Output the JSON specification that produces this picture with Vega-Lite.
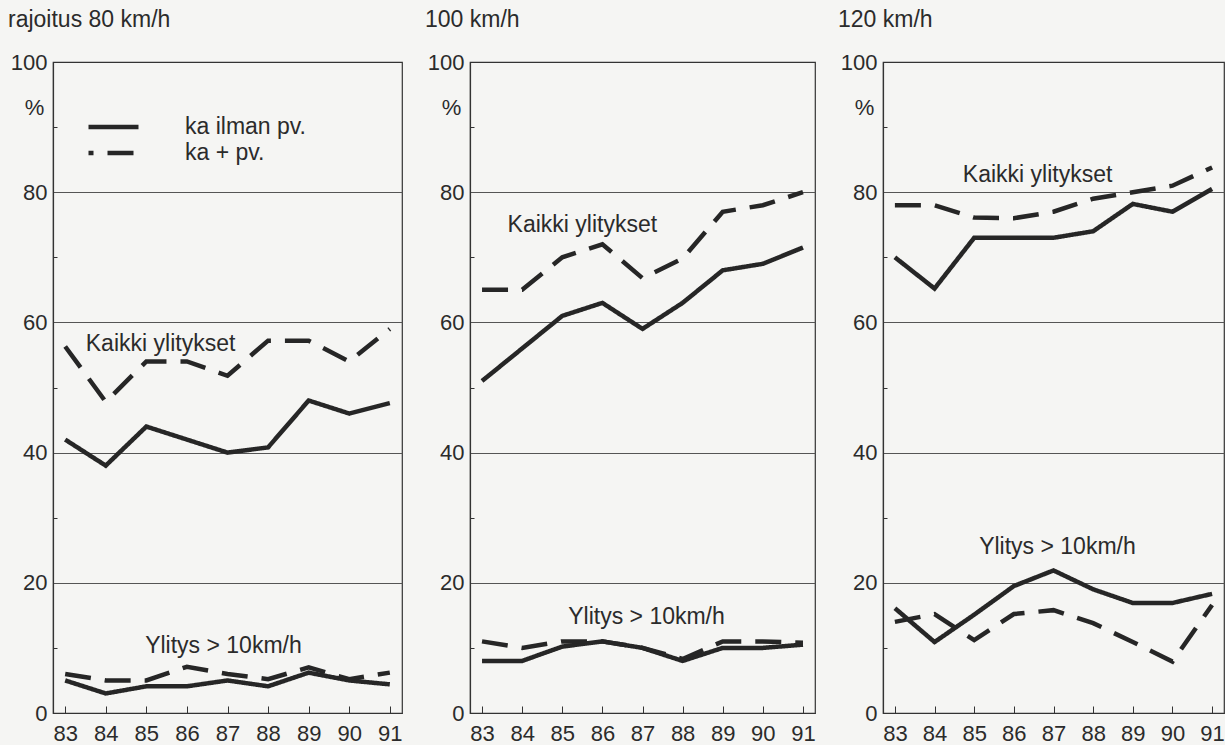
{
  "$schema": "https://vega.github.io/schema/vega-lite/v6.json",
  "background": "#f5f5f3",
  "padding": {"left": 7, "top": 8, "right": 0, "bottom": 0},
  "autosize": {"type": "pad"},
  "spacing": 21,
  "config": {
    "font": "Liberation Sans",
    "view": {"stroke": "#333333", "strokeWidth": 1.2},
    "axis": {"labelFont": "Liberation Sans", "labelFontSize": 22, "labelColor": "#2b2b2b", "domainColor": "#333333", "tickColor": "#333333", "gridColor": "#555555", "gridWidth": 1, "titleFont": "Liberation Sans", "titleFontWeight": "normal", "titleFontSize": 22, "titleColor": "#2b2b2b"},
    "title": {"font": "Liberation Sans", "fontSize": 23, "fontWeight": "normal", "color": "#2b2b2b", "anchor": "start", "frame": "bounds", "offset": 19},
    "legend": {"labelFont": "Liberation Sans", "labelFontSize": 23, "labelColor": "#2b2b2b"},
    "text": {"font": "Liberation Sans", "fontSize": 23, "color": "#2b2b2b"}
  },
  "datasets": {
    "d": [
      {"panel": "80", "measure": "Kaikki", "type": "ka ilman pv.", "year": 83, "value": 42},
      {"panel": "80", "measure": "Kaikki", "type": "ka ilman pv.", "year": 84, "value": 38},
      {"panel": "80", "measure": "Kaikki", "type": "ka ilman pv.", "year": 85, "value": 44},
      {"panel": "80", "measure": "Kaikki", "type": "ka ilman pv.", "year": 86, "value": 42},
      {"panel": "80", "measure": "Kaikki", "type": "ka ilman pv.", "year": 87, "value": 40},
      {"panel": "80", "measure": "Kaikki", "type": "ka ilman pv.", "year": 88, "value": 40.8},
      {"panel": "80", "measure": "Kaikki", "type": "ka ilman pv.", "year": 89, "value": 48},
      {"panel": "80", "measure": "Kaikki", "type": "ka ilman pv.", "year": 90, "value": 46},
      {"panel": "80", "measure": "Kaikki", "type": "ka ilman pv.", "year": 91, "value": 47.6},
      {"panel": "80", "measure": "Kaikki", "type": "ka + pv.", "year": 83, "value": 56.3},
      {"panel": "80", "measure": "Kaikki", "type": "ka + pv.", "year": 84, "value": 47.8},
      {"panel": "80", "measure": "Kaikki", "type": "ka + pv.", "year": 85, "value": 54},
      {"panel": "80", "measure": "Kaikki", "type": "ka + pv.", "year": 86, "value": 54},
      {"panel": "80", "measure": "Kaikki", "type": "ka + pv.", "year": 87, "value": 51.8},
      {"panel": "80", "measure": "Kaikki", "type": "ka + pv.", "year": 88, "value": 57.2},
      {"panel": "80", "measure": "Kaikki", "type": "ka + pv.", "year": 89, "value": 57.2},
      {"panel": "80", "measure": "Kaikki", "type": "ka + pv.", "year": 90, "value": 54},
      {"panel": "80", "measure": "Kaikki", "type": "ka + pv.", "year": 91, "value": 59},
      {"panel": "80", "measure": "Ylitys", "type": "ka ilman pv.", "year": 83, "value": 5},
      {"panel": "80", "measure": "Ylitys", "type": "ka ilman pv.", "year": 84, "value": 3},
      {"panel": "80", "measure": "Ylitys", "type": "ka ilman pv.", "year": 85, "value": 4.1},
      {"panel": "80", "measure": "Ylitys", "type": "ka ilman pv.", "year": 86, "value": 4.1},
      {"panel": "80", "measure": "Ylitys", "type": "ka ilman pv.", "year": 87, "value": 5},
      {"panel": "80", "measure": "Ylitys", "type": "ka ilman pv.", "year": 88, "value": 4.1},
      {"panel": "80", "measure": "Ylitys", "type": "ka ilman pv.", "year": 89, "value": 6.2},
      {"panel": "80", "measure": "Ylitys", "type": "ka ilman pv.", "year": 90, "value": 5},
      {"panel": "80", "measure": "Ylitys", "type": "ka ilman pv.", "year": 91, "value": 4.4},
      {"panel": "80", "measure": "Ylitys", "type": "ka + pv.", "year": 83, "value": 6},
      {"panel": "80", "measure": "Ylitys", "type": "ka + pv.", "year": 84, "value": 5},
      {"panel": "80", "measure": "Ylitys", "type": "ka + pv.", "year": 85, "value": 5},
      {"panel": "80", "measure": "Ylitys", "type": "ka + pv.", "year": 86, "value": 7.1},
      {"panel": "80", "measure": "Ylitys", "type": "ka + pv.", "year": 87, "value": 6},
      {"panel": "80", "measure": "Ylitys", "type": "ka + pv.", "year": 88, "value": 5.2},
      {"panel": "80", "measure": "Ylitys", "type": "ka + pv.", "year": 89, "value": 7},
      {"panel": "80", "measure": "Ylitys", "type": "ka + pv.", "year": 90, "value": 5.2},
      {"panel": "80", "measure": "Ylitys", "type": "ka + pv.", "year": 91, "value": 6.2},

      {"panel": "100", "measure": "Kaikki", "type": "ka ilman pv.", "year": 83, "value": 51},
      {"panel": "100", "measure": "Kaikki", "type": "ka ilman pv.", "year": 84, "value": 56},
      {"panel": "100", "measure": "Kaikki", "type": "ka ilman pv.", "year": 85, "value": 61},
      {"panel": "100", "measure": "Kaikki", "type": "ka ilman pv.", "year": 86, "value": 63},
      {"panel": "100", "measure": "Kaikki", "type": "ka ilman pv.", "year": 87, "value": 59},
      {"panel": "100", "measure": "Kaikki", "type": "ka ilman pv.", "year": 88, "value": 63},
      {"panel": "100", "measure": "Kaikki", "type": "ka ilman pv.", "year": 89, "value": 68},
      {"panel": "100", "measure": "Kaikki", "type": "ka ilman pv.", "year": 90, "value": 69},
      {"panel": "100", "measure": "Kaikki", "type": "ka ilman pv.", "year": 91, "value": 71.5},
      {"panel": "100", "measure": "Kaikki", "type": "ka + pv.", "year": 83, "value": 65},
      {"panel": "100", "measure": "Kaikki", "type": "ka + pv.", "year": 84, "value": 65},
      {"panel": "100", "measure": "Kaikki", "type": "ka + pv.", "year": 85, "value": 70},
      {"panel": "100", "measure": "Kaikki", "type": "ka + pv.", "year": 86, "value": 72},
      {"panel": "100", "measure": "Kaikki", "type": "ka + pv.", "year": 87, "value": 66.8},
      {"panel": "100", "measure": "Kaikki", "type": "ka + pv.", "year": 88, "value": 69.8},
      {"panel": "100", "measure": "Kaikki", "type": "ka + pv.", "year": 89, "value": 77},
      {"panel": "100", "measure": "Kaikki", "type": "ka + pv.", "year": 90, "value": 78},
      {"panel": "100", "measure": "Kaikki", "type": "ka + pv.", "year": 91, "value": 80},
      {"panel": "100", "measure": "Ylitys", "type": "ka ilman pv.", "year": 83, "value": 8},
      {"panel": "100", "measure": "Ylitys", "type": "ka ilman pv.", "year": 84, "value": 8},
      {"panel": "100", "measure": "Ylitys", "type": "ka ilman pv.", "year": 85, "value": 10.2},
      {"panel": "100", "measure": "Ylitys", "type": "ka ilman pv.", "year": 86, "value": 11},
      {"panel": "100", "measure": "Ylitys", "type": "ka ilman pv.", "year": 87, "value": 10},
      {"panel": "100", "measure": "Ylitys", "type": "ka ilman pv.", "year": 88, "value": 8},
      {"panel": "100", "measure": "Ylitys", "type": "ka ilman pv.", "year": 89, "value": 10},
      {"panel": "100", "measure": "Ylitys", "type": "ka ilman pv.", "year": 90, "value": 10},
      {"panel": "100", "measure": "Ylitys", "type": "ka ilman pv.", "year": 91, "value": 10.5},
      {"panel": "100", "measure": "Ylitys", "type": "ka + pv.", "year": 83, "value": 11},
      {"panel": "100", "measure": "Ylitys", "type": "ka + pv.", "year": 84, "value": 10},
      {"panel": "100", "measure": "Ylitys", "type": "ka + pv.", "year": 85, "value": 11},
      {"panel": "100", "measure": "Ylitys", "type": "ka + pv.", "year": 86, "value": 11},
      {"panel": "100", "measure": "Ylitys", "type": "ka + pv.", "year": 87, "value": 10},
      {"panel": "100", "measure": "Ylitys", "type": "ka + pv.", "year": 88, "value": 8.3},
      {"panel": "100", "measure": "Ylitys", "type": "ka + pv.", "year": 89, "value": 11},
      {"panel": "100", "measure": "Ylitys", "type": "ka + pv.", "year": 90, "value": 11},
      {"panel": "100", "measure": "Ylitys", "type": "ka + pv.", "year": 91, "value": 10.8},

      {"panel": "120", "measure": "Kaikki", "type": "ka ilman pv.", "year": 83, "value": 70},
      {"panel": "120", "measure": "Kaikki", "type": "ka ilman pv.", "year": 84, "value": 65.2},
      {"panel": "120", "measure": "Kaikki", "type": "ka ilman pv.", "year": 85, "value": 73},
      {"panel": "120", "measure": "Kaikki", "type": "ka ilman pv.", "year": 86, "value": 73},
      {"panel": "120", "measure": "Kaikki", "type": "ka ilman pv.", "year": 87, "value": 73},
      {"panel": "120", "measure": "Kaikki", "type": "ka ilman pv.", "year": 88, "value": 74},
      {"panel": "120", "measure": "Kaikki", "type": "ka ilman pv.", "year": 89, "value": 78.2},
      {"panel": "120", "measure": "Kaikki", "type": "ka ilman pv.", "year": 90, "value": 77},
      {"panel": "120", "measure": "Kaikki", "type": "ka ilman pv.", "year": 91, "value": 80.5},
      {"panel": "120", "measure": "Kaikki", "type": "ka + pv.", "year": 83, "value": 78},
      {"panel": "120", "measure": "Kaikki", "type": "ka + pv.", "year": 84, "value": 78},
      {"panel": "120", "measure": "Kaikki", "type": "ka + pv.", "year": 85, "value": 76.1},
      {"panel": "120", "measure": "Kaikki", "type": "ka + pv.", "year": 86, "value": 76},
      {"panel": "120", "measure": "Kaikki", "type": "ka + pv.", "year": 87, "value": 77},
      {"panel": "120", "measure": "Kaikki", "type": "ka + pv.", "year": 88, "value": 79},
      {"panel": "120", "measure": "Kaikki", "type": "ka + pv.", "year": 89, "value": 80},
      {"panel": "120", "measure": "Kaikki", "type": "ka + pv.", "year": 90, "value": 81},
      {"panel": "120", "measure": "Kaikki", "type": "ka + pv.", "year": 91, "value": 83.8},
      {"panel": "120", "measure": "Ylitys", "type": "ka ilman pv.", "year": 83, "value": 16.1},
      {"panel": "120", "measure": "Ylitys", "type": "ka ilman pv.", "year": 84, "value": 10.9},
      {"panel": "120", "measure": "Ylitys", "type": "ka ilman pv.", "year": 85, "value": 15.1},
      {"panel": "120", "measure": "Ylitys", "type": "ka ilman pv.", "year": 86, "value": 19.5},
      {"panel": "120", "measure": "Ylitys", "type": "ka ilman pv.", "year": 87, "value": 21.9},
      {"panel": "120", "measure": "Ylitys", "type": "ka ilman pv.", "year": 88, "value": 19},
      {"panel": "120", "measure": "Ylitys", "type": "ka ilman pv.", "year": 89, "value": 16.9},
      {"panel": "120", "measure": "Ylitys", "type": "ka ilman pv.", "year": 90, "value": 16.9},
      {"panel": "120", "measure": "Ylitys", "type": "ka ilman pv.", "year": 91, "value": 18.3},
      {"panel": "120", "measure": "Ylitys", "type": "ka + pv.", "year": 83, "value": 14},
      {"panel": "120", "measure": "Ylitys", "type": "ka + pv.", "year": 84, "value": 15.2},
      {"panel": "120", "measure": "Ylitys", "type": "ka + pv.", "year": 85, "value": 11.2},
      {"panel": "120", "measure": "Ylitys", "type": "ka + pv.", "year": 86, "value": 15.2},
      {"panel": "120", "measure": "Ylitys", "type": "ka + pv.", "year": 87, "value": 15.8},
      {"panel": "120", "measure": "Ylitys", "type": "ka + pv.", "year": 88, "value": 13.8},
      {"panel": "120", "measure": "Ylitys", "type": "ka + pv.", "year": 89, "value": 10.9},
      {"panel": "120", "measure": "Ylitys", "type": "ka + pv.", "year": 90, "value": 7.9},
      {"panel": "120", "measure": "Ylitys", "type": "ka + pv.", "year": 91, "value": 16.6}
    ]
  },
  "resolve": {"legend": {"strokeDash": "independent"}},
  "hconcat": [
    {
      "width": 349, "height": 651,
      "title": {"text": "rajoitus 80 km/h"},
      "layer": [
        {
          "data": {"name": "d"},
          "transform": [{"filter": "datum.panel == '80'"}],
          "mark": {"type": "line", "strokeWidth": 4.5, "color": "#262626"},
          "encoding": {
            "x": {"field": "year", "type": "quantitative", "scale": {"domain": [82.7, 91.3], "nice": false, "zero": false},
                  "axis": {"title": null, "values": [83,84,85,86,87,88,89,90,91], "format": "d", "grid": false, "tickSize": -7, "labelPadding": 17, "domainWidth": 1.2}},
            "y": {"field": "value", "type": "quantitative", "scale": {"domain": [0, 100], "nice": false},
                  "axis": {"title": "%", "titleAngle": 0, "titleX": -19, "titleY": 45, "titleAlign": "center", "titleBaseline": "middle", "values": [0,10,20,30,40,50,60,70,80,90,100], "labelExpr": "datum.value % 20 == 0 ? datum.label : ''", "grid": true, "gridOpacity": {"condition": {"test": "datum.value % 20 == 0 && datum.value > 0 && datum.value < 100", "value": 1}, "value": 0}, "tickSize": -4, "tickOpacity": {"condition": {"test": "datum.value % 20 == 0", "value": 0}, "value": 1}, "labelPadding": 10, "minExtent": 45, "maxExtent": 45, "domainWidth": 1.2}},
            "detail": {"field": "measure"},
            "strokeDash": {"field": "type", "type": "nominal", "scale": {"domain": ["ka ilman pv.", "ka + pv."], "range": [[1, 0], [26, 14]]},
                           "legend": {"title": null, "orient": "none", "legendX": 33, "legendY": 52, "symbolType": "stroke", "symbolSize": 2500, "symbolStrokeWidth": 4.5, "symbolStrokeColor": "#262626", "labelOffset": 44, "rowPadding": 0, "clipHeight": 26, "symbolDashOffset": 21}}
          }
        },
        {
          "data": {"values": [{"label": "Kaikki ylitykset"}]},
          "mark": {"type": "text", "align": "center", "baseline": "middle"},
          "encoding": {"x": {"datum": 85.35}, "y": {"datum": 56.7}, "text": {"field": "label"}}
        },
        {
          "data": {"values": [{"label": "Ylitys > 10km/h"}]},
          "mark": {"type": "text", "align": "center", "baseline": "middle"},
          "encoding": {"x": {"datum": 86.9}, "y": {"datum": 10.3}, "text": {"field": "label"}}
        }
      ]
    },
    {
      "width": 345, "height": 651,
      "title": {"text": "100 km/h"},
      "layer": [
        {
          "data": {"name": "d"},
          "transform": [{"filter": "datum.panel == '100'"}],
          "mark": {"type": "line", "strokeWidth": 4.5, "color": "#262626"},
          "encoding": {
            "x": {"field": "year", "type": "quantitative", "scale": {"domain": [82.7, 91.3], "nice": false, "zero": false},
                  "axis": {"title": null, "values": [83,84,85,86,87,88,89,90,91], "format": "d", "grid": false, "tickSize": -7, "labelPadding": 17, "domainWidth": 1.2}},
            "y": {"field": "value", "type": "quantitative", "scale": {"domain": [0, 100], "nice": false},
                  "axis": {"title": "%", "titleAngle": 0, "titleX": -19, "titleY": 45, "titleAlign": "center", "titleBaseline": "middle", "values": [0,10,20,30,40,50,60,70,80,90,100], "labelExpr": "datum.value % 20 == 0 ? datum.label : ''", "grid": true, "gridOpacity": {"condition": {"test": "datum.value % 20 == 0 && datum.value > 0 && datum.value < 100", "value": 1}, "value": 0}, "tickSize": -4, "tickOpacity": {"condition": {"test": "datum.value % 20 == 0", "value": 0}, "value": 1}, "labelPadding": 10, "minExtent": 45, "maxExtent": 45, "domainWidth": 1.2}},
            "detail": {"field": "measure"},
            "strokeDash": {"field": "type", "type": "nominal", "scale": {"domain": ["ka ilman pv.", "ka + pv."], "range": [[1, 0], [26, 14]]}, "legend": null}
          }
        },
        {
          "data": {"values": [{"label": "Kaikki ylitykset"}]},
          "mark": {"type": "text", "align": "center", "baseline": "middle"},
          "encoding": {"x": {"datum": 85.5}, "y": {"datum": 74.9}, "text": {"field": "label"}}
        },
        {
          "data": {"values": [{"label": "Ylitys > 10km/h"}]},
          "mark": {"type": "text", "align": "center", "baseline": "middle"},
          "encoding": {"x": {"datum": 87.1}, "y": {"datum": 14.7}, "text": {"field": "label"}}
        }
      ]
    },
    {
      "width": 341, "height": 651,
      "title": {"text": "120 km/h"},
      "layer": [
        {
          "data": {"name": "d"},
          "transform": [{"filter": "datum.panel == '120'"}],
          "mark": {"type": "line", "strokeWidth": 4.5, "color": "#262626"},
          "encoding": {
            "x": {"field": "year", "type": "quantitative", "scale": {"domain": [82.7, 91.3], "nice": false, "zero": false},
                  "axis": {"title": null, "values": [83,84,85,86,87,88,89,90,91], "format": "d", "grid": false, "tickSize": -7, "labelPadding": 17, "domainWidth": 1.2}},
            "y": {"field": "value", "type": "quantitative", "scale": {"domain": [0, 100], "nice": false},
                  "axis": {"title": "%", "titleAngle": 0, "titleX": -19, "titleY": 45, "titleAlign": "center", "titleBaseline": "middle", "values": [0,10,20,30,40,50,60,70,80,90,100], "labelExpr": "datum.value % 20 == 0 ? datum.label : ''", "grid": true, "gridOpacity": {"condition": {"test": "datum.value % 20 == 0 && datum.value > 0 && datum.value < 100", "value": 1}, "value": 0}, "tickSize": -4, "tickOpacity": {"condition": {"test": "datum.value % 20 == 0", "value": 0}, "value": 1}, "labelPadding": 10, "minExtent": 45, "maxExtent": 45, "domainWidth": 1.2}},
            "detail": {"field": "measure"},
            "strokeDash": {"field": "type", "type": "nominal", "scale": {"domain": ["ka ilman pv.", "ka + pv."], "range": [[1, 0], [26, 14]]}, "legend": null}
          }
        },
        {
          "data": {"values": [{"label": "Kaikki ylitykset"}]},
          "mark": {"type": "text", "align": "center", "baseline": "middle"},
          "encoding": {"x": {"datum": 86.6}, "y": {"datum": 82.7}, "text": {"field": "label"}}
        },
        {
          "data": {"values": [{"label": "Ylitys > 10km/h"}]},
          "mark": {"type": "text", "align": "center", "baseline": "middle"},
          "encoding": {"x": {"datum": 87.1}, "y": {"datum": 25.5}, "text": {"field": "label"}}
        }
      ]
    }
  ]
}
